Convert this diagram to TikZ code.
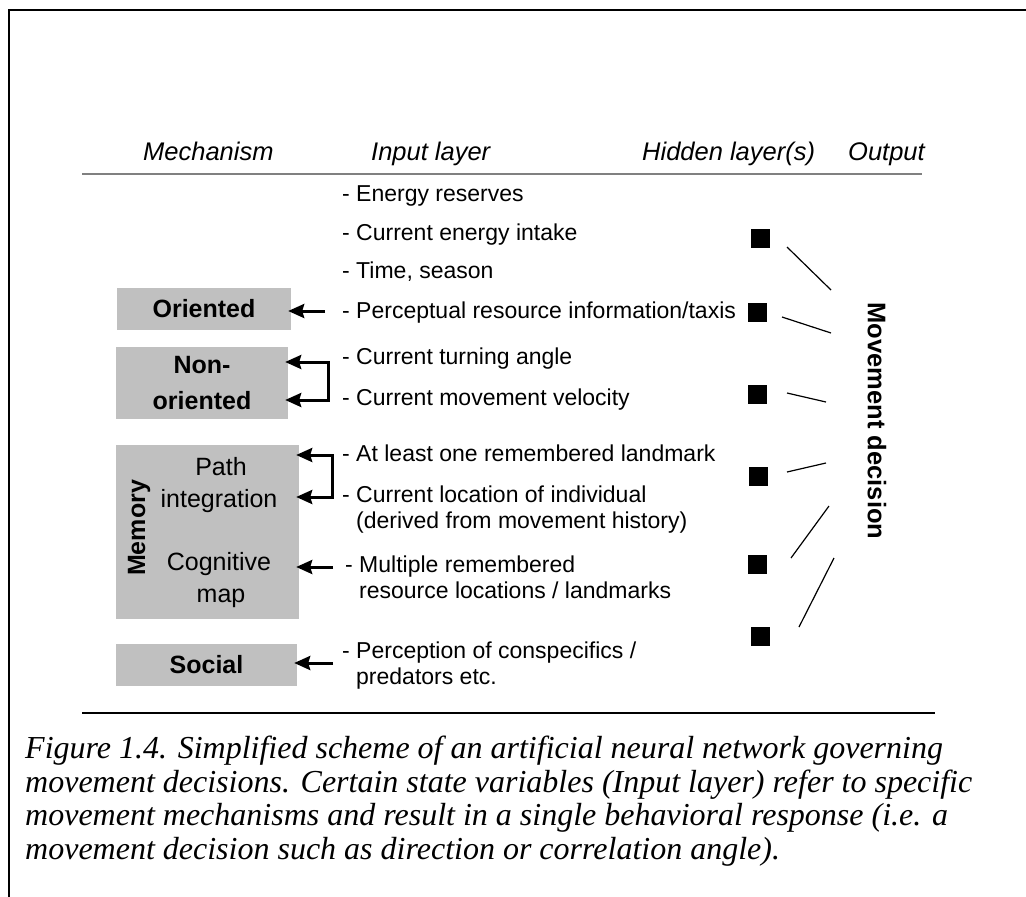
\documentclass[tikz,border=0pt]{standalone}
\usepackage{fontspec}
\setmainfont{Liberation Sans}
\newfontfamily\capfont{Liberation Serif}
\usetikzlibrary{arrows.meta,calc}
\definecolor{boxgray}{RGB}{192,192,192}
\definecolor{rulegray}{RGB}{128,128,128}
\begin{document}
\begin{tikzpicture}[x=1pt,y=-1pt,
  hdr/.style={anchor=base west,inner sep=0pt,font=\fontsize{25.5}{30}\selectfont\itshape},
  inp/.style={anchor=base west,inner sep=0pt,font=\fontsize{23}{27}\selectfont},
  mechbox/.style={fill=boxgray,draw=none,inner sep=0pt,align=center},
  boldlbl/.style={font=\fontsize{25}{36}\selectfont\bfseries},
  plainlbl/.style={anchor=base,inner sep=0pt,font=\fontsize{25}{30}\selectfont},
  hid/.style={fill=black,draw=none,minimum size=19pt,inner sep=0pt},
  arr/.style={line width=3pt,-{Stealth[length=16pt,width=14pt,inset=2pt]},shorten >=-3pt},
  barr/.style={line width=3pt,{Stealth[length=16pt,width=14pt,inset=2pt]}-{Stealth[length=16pt,width=14pt,inset=2pt]},shorten >=-3pt,shorten <=-3pt},
  link/.style={line width=1.2pt},
  captext/.style={anchor=base west,inner sep=0pt,font=\capfont\itshape\fontsize{32}{33}\selectfont}]
\useasboundingbox (0,0) rectangle (1026,897);
\fill[white] (0,0) rectangle (1026,897);
% frame
\draw[line width=2pt] (9,897) -- (9,10) -- (1026,10);
% headers
\node[hdr] (hmech) at (143,160) {Mechanism};
\node[hdr] (hinp) at (371,160) {Input layer};
\node[hdr] (hhid) at (642,160) {Hidden layer(s)};
\node[hdr] (hout) at (848,160) {Output};
\draw[rulegray,line width=2pt] (82,174) -- (922,174);
% mechanism boxes
\node[mechbox,boldlbl,minimum width=174pt,minimum height=42pt] (orient) at (204,309) {Oriented};
\node[mechbox,boldlbl,minimum width=172pt,minimum height=72pt] (nonor) at (202,383) {Non-\\oriented};
\node[mechbox,minimum width=183pt,minimum height=174pt] (memory) at (207.5,532) {};
\node[mechbox,boldlbl,minimum width=181pt,minimum height=42pt] (social) at (206.5,665) {Social};
\node[rotate=90,inner sep=0pt,font=\fontsize{25}{30}\selectfont\bfseries] (memlbl) at (139,528) {Memory};
\node[plainlbl] (path) at (221,475) {Path};
\node[plainlbl] (integ) at (219,507) {integration};
\node[plainlbl] (cogn) at (219,570) {Cognitive};
\node[plainlbl] (map) at (221,602) {map};
% input layer
\node[inp] (e1) at (342,201) {- Energy reserves};
\node[inp] (e2) at (342,240) {- Current energy intake};
\node[inp] (e3) at (342,278) {- Time, season};
\node[inp] (e4) at (342,318) {- Perceptual resource information/taxis};
\node[inp] (e5) at (342,364) {- Current turning angle};
\node[inp] (e6) at (342,405) {- Current movement velocity};
\node[inp] (e7) at (342,461) {- At least one remembered landmark};
\node[inp] (e8) at (342,502) {- Current location of individual};
\node[inp] (e8b) at (356,528) {(derived from movement history)};
\node[inp] (e9) at (345,572) {- Multiple remembered};
\node[inp] (e9b) at (359,598) {resource locations / landmarks};
\node[inp] (e10) at (342,658) {- Perception of conspecifics /};
\node[inp] (e10b) at (356,684) {predators etc.};
% arrows
\coordinate (ta) at (325,311);
\draw[arr] (ta) -- (orient.east |- ta);
\coordinate (tb1) at (328,362);
\coordinate (tb2) at (328,400);
\draw[barr] (nonor.east |- tb1) -- (tb1) -- (tb2) -- (nonor.east |- tb2);
\coordinate (tc1) at (332,455);
\coordinate (tc2) at (332,497);
\draw[barr] (memory.east |- tc1) -- (tc1) -- (tc2) -- (memory.east |- tc2);
\coordinate (td) at (333,567);
\draw[arr] (td) -- (memory.east |- td);
\coordinate (te) at (333,663);
\draw[arr] (te) -- (social.east |- te);
% hidden layer
\node[hid] (h1) at (760,238) {};
\node[hid] (h2) at (757,312) {};
\node[hid] (h3) at (757,394) {};
\node[hid] (h4) at (758,476) {};
\node[hid] (h5) at (757,564) {};
\node[hid] (h6) at (760,636) {};
% output
\node[rotate=-90,inner sep=0pt,font=\fontsize{25.5}{30}\selectfont\bfseries] (out) at (877,421) {Movement decision};
\coordinate (o1) at (831,290);
\coordinate (o2) at (831,333);
\coordinate (o3) at (826,402);
\coordinate (o4) at (826,463);
\coordinate (o5) at (829,506);
\coordinate (o6) at (834,558);
\draw[link] ($(h1)+(27,9)$) -- (o1);
\draw[link] ($(h2)+(25,5)$) -- (o2);
\draw[link] ($(h3)+(30,-1)$) -- (o3);
\draw[link] ($(h4)+(29,-4)$) -- (o4);
\draw[link] ($(h5)+(34,-6)$) -- (o5);
\draw[link] ($(h6)+(39,-9)$) -- (o6);
% bottom rule and caption
\draw[line width=2pt] (82,713) -- (935,713);
\node[captext] (c1) at (25,758) {Figure 1.4. Simplified scheme of an artificial neural network governing};
\node[captext] (c2) at (25,792) {movement decisions. Certain state variables (Input layer) refer to specific};
\node[captext] (c3) at (25,825) {movement mechanisms and result in a single behavioral response (i.e. a};
\node[captext] (c4) at (25,859) {movement decision such as direction or correlation angle).};
\end{tikzpicture}
\end{document}
